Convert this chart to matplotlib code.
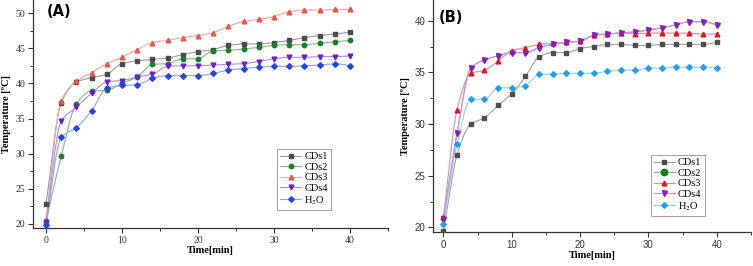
import numpy as np
import matplotlib
matplotlib.use("Agg")
import matplotlib.pyplot as plt
from matplotlib.ticker import MultipleLocator

plt.rcParams['mathtext.fontset'] = 'stix'

time = list(range(0, 41, 2))
series_names = ["CDs1", "CDs2", "CDs3", "CDs4", "H$_2$O"]

# Panel A
a_cds1 = [22.8, 37.2, 40.2, 40.8, 41.3, 42.8, 43.2, 43.4, 43.6, 44.1, 44.5, 44.8, 45.4, 45.6, 45.6, 45.8, 46.1, 46.5, 46.8, 47.0, 47.3]
a_cds2 = [20.3, 29.6, 37.1, 38.9, 39.0, 40.0, 40.9, 42.7, 42.8, 43.5, 43.5, 44.6, 44.7, 44.9, 45.1, 45.4, 45.5, 45.5, 45.7, 45.9, 46.1]
a_cds3 = [20.5, 37.5, 40.3, 41.5, 42.8, 43.7, 44.8, 45.8, 46.1, 46.5, 46.8, 47.2, 48.1, 48.8, 49.1, 49.5, 50.2, 50.4, 50.4, 50.5, 50.5]
a_cds4 = [20.3, 34.6, 36.6, 38.6, 40.2, 40.4, 40.9, 41.3, 42.4, 42.5, 42.5, 42.6, 42.7, 42.8, 43.1, 43.5, 43.7, 43.7, 43.8, 43.8, 43.9]
a_h2o = [19.8, 32.3, 33.7, 36.1, 39.3, 39.7, 39.8, 40.7, 41.1, 41.1, 41.1, 41.4, 41.9, 42.1, 42.3, 42.4, 42.4, 42.5, 42.6, 42.8, 42.5]

# Panel B
b_cds1 = [19.6, 27.0, 30.0, 30.6, 31.8, 32.9, 34.6, 36.5, 36.9, 36.9, 37.3, 37.5, 37.7, 37.7, 37.6, 37.6, 37.7, 37.7, 37.7, 37.7, 37.9]
b_cds2 = [20.8, 29.1, 35.4, 36.2, 36.6, 36.9, 36.9, 37.4, 37.7, 37.9, 38.0, 38.6, 38.7, 38.8, 38.9, 39.1, 39.3, 39.6, 39.9, 39.9, 39.6]
b_cds3 = [21.0, 31.4, 34.9, 35.2, 36.1, 37.1, 37.4, 37.7, 37.8, 37.9, 38.0, 38.6, 38.7, 38.8, 38.75, 38.8, 38.8, 38.8, 38.8, 38.7, 38.7]
b_cds4 = [20.8, 29.1, 35.4, 36.2, 36.6, 36.9, 36.9, 37.4, 37.7, 37.9, 38.0, 38.6, 38.7, 38.8, 38.9, 39.1, 39.3, 39.6, 39.9, 39.9, 39.6]
b_h2o = [20.3, 28.1, 32.4, 32.4, 33.5, 33.5, 33.7, 34.8, 34.8, 34.9, 34.9, 34.9, 35.1, 35.2, 35.2, 35.4, 35.4, 35.5, 35.5, 35.5, 35.4]

a_yticks = [20, 25, 30, 35, 40, 45, 50]
b_yticks = [20, 25, 30, 35, 40]
xticks = [0, 10, 20, 30, 40]


def pchip(x, y, xn):
    x = np.asarray(x, float); y = np.asarray(y, float)
    h = np.diff(x); d = np.diff(y) / h
    n = len(x); m = np.zeros(n)
    for k in range(1, n - 1):
        if d[k - 1] * d[k] > 0:
            w1 = 2 * h[k] + h[k - 1]; w2 = h[k] + 2 * h[k - 1]
            m[k] = (w1 + w2) / (w1 / d[k - 1] + w2 / d[k])
    m[0] = d[0]; m[-1] = d[-1]
    idx = np.clip(np.searchsorted(x, xn) - 1, 0, n - 2)
    t = (xn - x[idx]) / h[idx]
    h00 = 2 * t**3 - 3 * t**2 + 1; h10 = t**3 - 2 * t**2 + t
    h01 = -2 * t**3 + 3 * t**2; h11 = t**3 - t**2
    return h00 * y[idx] + h10 * h[idx] * m[idx] + h01 * y[idx + 1] + h11 * h[idx] * m[idx + 1]


fig = plt.figure(figsize=(7.53, 2.66), dpi=100)
axA = fig.add_axes([33 / 753, 38 / 266, 355 / 753, 228 / 266])
axB = fig.add_axes([433 / 753, 34 / 266, 318 / 753, 232 / 266])

panelA = dict(data=[a_cds1, a_cds2, a_cds3, a_cds4, a_h2o],
              mcol=['#4a4a4a', '#1e7d2a', '#e8564f', '#6a1fc8', '#2446e0'],
              lcol=['#9a9a9a', '#7fb88a', '#f2a6a2', '#b08ae0', '#8fa0f0'],
              ms=[3.0, 3.2, 3.4, 3.4, 3.4], lms=[3.0, 3.2, 3.4, 3.4, 3.4])
panelB = dict(data=[b_cds1, b_cds2, b_cds3, b_cds4, b_h2o],
              mcol=['#4d4d4d', '#1a7a1a', '#e0142a', '#8a1cb8', '#20a0ea'],
              lcol=['#a0a0a0', '#7fb87f', '#f08a95', '#c890e0', '#8fcff5'],
              ms=[3.0, 2.0, 3.4, 3.6, 3.4], lms=[3.0, 4.6, 3.4, 3.6, 3.4])
markers = ['s', 'o', '^', 'v', 'D']
xf = np.linspace(0, 40, 400)

for ax, p, yt, ylim, tickfont, lab, labpos, legpos in [
        (axA, panelA, a_yticks, (19.43, 51.85), 'Liberation Serif', '(A)', (0.04, 0.95), (0.688, 0.08)),
        (axB, panelB, b_yticks, (19.55, 42.0), 'Liberation Sans', '(B)', (0.018, 0.925), (0.685, 0.07))]:
    for i, d in enumerate(p['data']):
        ax.plot(xf, pchip(time, d, xf), color=p['lcol'][i], lw=0.8, zorder=2)
        f = 0.85 if markers[i] == 'D' else 1
        ax.plot(time, d, ls='none', marker=markers[i], color=p['mcol'][i],
                ms=p['ms'][i] * f, zorder=3)
        ax.plot([], [], color=p['lcol'][i], lw=0.8, marker=markers[i],
                mfc=p['mcol'][i], mec=p['mcol'][i], ms=p['lms'][i] * f,
                label=series_names[i])
    ax.set_xlim(-1.7 if ax is axA else -1.52, 45)
    ax.set_ylim(*ylim)
    ax.set_xticks(xticks)
    ax.set_yticks(yt)
    ax.xaxis.set_minor_locator(MultipleLocator(5))
    ax.yaxis.set_minor_locator(MultipleLocator(2.5))
    for s in ['top', 'right']:
        ax.spines[s].set_visible(False)
    for s in ['left', 'bottom']:
        ax.spines[s].set_linewidth(0.9)
        ax.spines[s].set_color('#333333')
    ax.tick_params(which='major', direction='out', length=3.5, width=0.8,
                   labelsize=7, colors='#333333', pad=2)
    ax.tick_params(which='minor', direction='out', length=2, width=0.7, colors='#333333')
    for t in ax.get_xticklabels() + ax.get_yticklabels():
        t.set_fontfamily(tickfont)
    ax.set_xlabel('Time[min]', fontfamily='Liberation Serif', fontweight='bold',
                  fontsize=7.5, labelpad=1)
    ax.set_ylabel('Temperature [ºC]', fontfamily='Liberation Serif', fontweight='bold',
                  fontsize=7.5, labelpad=3)
    ax.text(labpos[0], labpos[1], lab, transform=ax.transAxes, fontsize=10.5,
            fontweight='bold', fontfamily='DejaVu Sans', va='center')
    leg = ax.legend(loc='lower left', bbox_to_anchor=legpos, fancybox=False,
                    prop={'family': 'Liberation Serif', 'size': 7.5},
                    handlelength=2.0, handletextpad=0.3, labelspacing=0.12,
                    borderpad=0.3, numpoints=1, borderaxespad=0)
    leg.get_frame().set_edgecolor('#888888')
    leg.get_frame().set_linewidth(0.7)

fig.savefig('out.png', dpi=100)
